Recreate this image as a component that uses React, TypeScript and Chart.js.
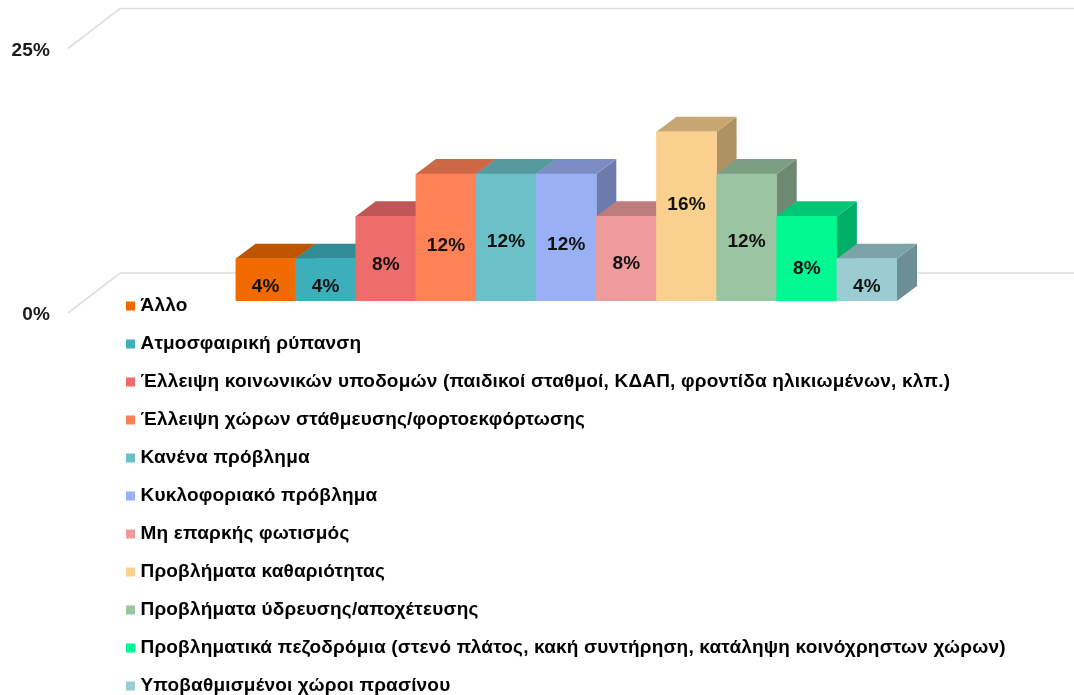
import React, { useEffect, useRef } from "react";
import { Chart, registerables } from "chart.js";

Chart.register(...registerables);

const categories = [
  "Άλλο",
  "Ατμοσφαιρική ρύπανση",
  "Έλλειψη κοινωνικών υποδομών (παιδικοί σταθμοί, ΚΔΑΠ, φροντίδα ηλικιωμένων, κλπ.)",
  "Έλλειψη χώρων στάθμευσης/φορτοεκφόρτωσης",
  "Κανένα πρόβλημα",
  "Κυκλοφοριακό πρόβλημα",
  "Μη επαρκής φωτισμός",
  "Προβλήματα καθαριότητας",
  "Προβλήματα ύδρευσης/αποχέτευσης",
  "Προβληματικά πεζοδρόμια (στενό πλάτος, κακή συντήρηση, κατάληψη κοινόχρηστων χώρων)",
  "Υποβαθμισμένοι χώροι πρασίνου",
];
const values = [4, 4, 8, 12, 12, 12, 8, 16, 12, 8, 4];
const colors = [
  "#F06A00", "#3DAFBA", "#EE6D6B", "#FF8257", "#6CC0C8", "#9AB0F5",
  "#EF9B9B", "#FAD08F", "#9BC5A2", "#00F892", "#9ACCD2",
];
const yTicks = [0, 25];

const FONT = '"Liberation Sans", Arial, sans-serif';
const DEPTH_X = 20;
const DEPTH_Y = -15;
const WALL_X = 52;
const WALL_Y = -40;
const FRONT_DROP = 12;
const labelNudge = [7, 7, 6, 8, 4, 7, 5, -12, 4, 10, 7];

function shade(hex: string, f: number) {
  const n = parseInt(hex.slice(1), 16);
  const c = [(n >> 16) & 255, (n >> 8) & 255, n & 255].map((v) => Math.round(v * f));
  return `rgb(${c[0]},${c[1]},${c[2]})`;
}

const poly = (ctx: CanvasRenderingContext2D, pts: number[][], fill: string) => {
  ctx.beginPath();
  pts.forEach(([x, y], i) => (i ? ctx.lineTo(x, y) : ctx.moveTo(x, y)));
  ctx.closePath();
  ctx.fillStyle = fill;
  ctx.fill();
};

const wallsAndDepth = {
  id: "wallsAndDepth",
  afterLayout(chart: any) {
    const lg = chart.legend;
    lg.left = 111;
    lg.right = 1074;
    lg.top = 277.5;
    lg.bottom = 800;
  },
  beforeDraw(chart: any) {
    chart.ctx.letterSpacing = "0.18px";
  },
  afterDraw(chart: any) {
    chart.ctx.letterSpacing = "0px";
  },
  beforeDatasetsDraw(chart: any) {
    const { ctx, scales } = chart;
    ctx.save();
    ctx.strokeStyle = "#DEDEDE";
    ctx.lineWidth = 1.6;
    const frontX = 68;
    yTicks.forEach((t) => {
      const y = scales.y.getPixelForValue(t) + FRONT_DROP;
      ctx.beginPath();
      ctx.moveTo(frontX, y);
      ctx.lineTo(frontX + WALL_X, y + WALL_Y);
      ctx.lineTo(chart.width, y + WALL_Y);
      ctx.stroke();
    });
    const meta = chart.getDatasetMeta(0);
    meta.data.forEach((bar: any, i: number) => {
      const half = bar.width / 2;
      const l = bar.x - half;
      const r = bar.x + half;
      const t = bar.y;
      const b = bar.base;
      poly(ctx, [[r, t], [r + DEPTH_X, t + DEPTH_Y], [r + DEPTH_X, b + DEPTH_Y], [r, b]], shade(colors[i], 0.7));
      poly(ctx, [[l, t], [l + DEPTH_X, t + DEPTH_Y], [r + DEPTH_X, t + DEPTH_Y], [r, t]], shade(colors[i], 0.8));
    });
    ctx.restore();
  },
  afterDatasetsDraw(chart: any) {
    const { ctx } = chart;
    ctx.save();
    ctx.font = `bold 19px ${FONT}`;
    ctx.fillStyle = "#111";
    ctx.textAlign = "center";
    ctx.textBaseline = "middle";
    chart.getDatasetMeta(0).data.forEach((bar: any, i: number) => {
      ctx.fillText(`${values[i]}%`, bar.x, (bar.y + bar.base) / 2 + labelNudge[i]);
    });
    ctx.restore();
  },
};

export default function App() {
  const ref = useRef<HTMLCanvasElement>(null);
  useEffect(() => {
    const chart = new Chart(ref.current!, {
      type: "bar",
      data: {
        labels: categories,
        datasets: [{ data: values, backgroundColor: colors, borderWidth: 0, barPercentage: 1, categoryPercentage: 1 }],
      },
      plugins: [wallsAndDepth],
      options: {
        animation: false,
        responsive: false,
        layout: { padding: { left: 4.5, right: 177, top: 36.5, bottom: 394 } },
        scales: {
          x: { display: false },
          y: {
            min: 0,
            max: 25,
            afterFit: (s: any) => {
              s.width = 230;
              s.paddingTop = 0;
              s.paddingBottom = 0;
            },
            afterBuildTicks: (s: any) => { s.ticks = yTicks.map((value) => ({ value })); },
            grid: { display: false, drawTicks: false },
            border: { display: false },
            ticks: {
              padding: 185.5,
              labelOffset: FRONT_DROP + 2,
              color: "#1a1a1a",
              font: { family: FONT, size: 19, weight: "bold" },
              callback: (v: any) => `${v}%`,
            },
          },
        },
        plugins: {
          tooltip: { enabled: false },
          legend: {
            position: "left",
            align: "start",
            maxWidth: 1,
            labels: {
              boxWidth: 1,
              boxHeight: 1,
              padding: 19,
              color: "#111",
              font: { family: FONT, size: 19, weight: "bold" },
              generateLabels: () =>
                categories.map((text, i) => ({
                  text,
                  fillStyle: colors[i],
                  strokeStyle: colors[i],
                  lineWidth: 8,
                  lineJoin: "miter",
                  hidden: false,
                  index: i,
                })),
            },
          },
        },
      } as any,
    });
    return () => chart.destroy();
  }, []);
  return (
    <div style={{ position: "fixed", left: 0, top: 0, width: 1074, height: 695, background: "#fff" }}>
      <canvas ref={ref} width={1074} height={695} style={{ display: "block", filter: "blur(0.4px)" }} />
    </div>
  );
}
